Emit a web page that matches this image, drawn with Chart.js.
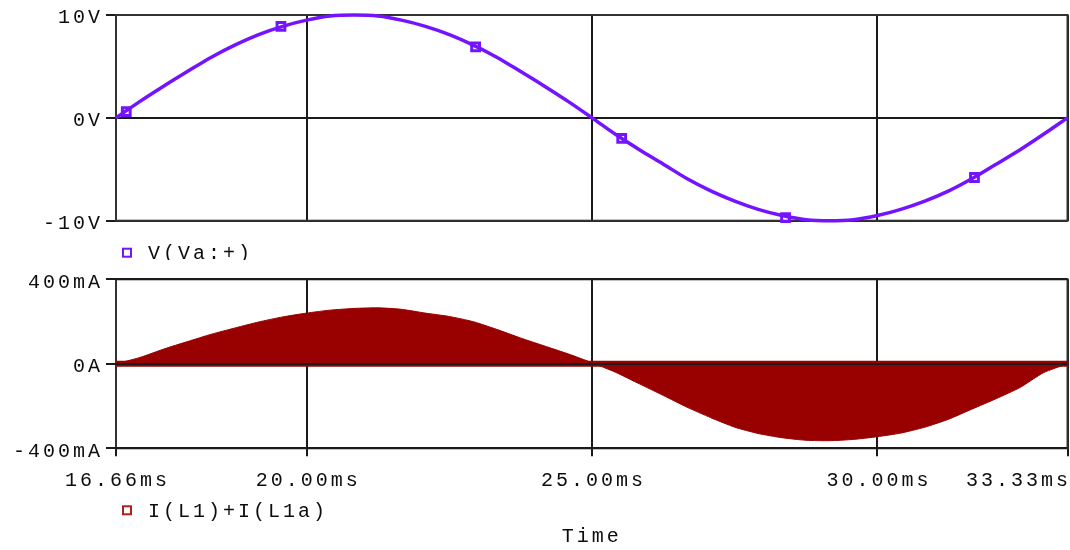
<!DOCTYPE html>
<html>
<head>
<meta charset="utf-8">
<script src="https://cdn.jsdelivr.net/npm/chart.js@4.4.1/dist/chart.umd.min.js"></script>
<style>
  html, body { margin: 0; padding: 0; background: #ffffff; width: 1070px; height: 550px; overflow: hidden; }
  canvas { position: absolute; left: 0; }
  #vplot { top: 0; }
  #iplot { top: 260px; }
</style>
</head>
<body>
<canvas id="vplot" width="1070" height="260"></canvas>
<canvas id="iplot" width="1070" height="290"></canvas>
<script>
// Sample times (ms) shared by both traces
const timeMs = [16.66, 17.08, 17.50, 17.91, 18.33, 18.75, 19.16, 19.58, 20.00, 20.41,
                20.83, 21.25, 21.66, 22.08, 22.50, 22.91, 23.33, 23.75, 24.16, 24.58,
                25.00, 25.41, 25.83, 26.25, 26.66, 27.08, 27.50, 27.91, 28.33, 28.75,
                29.16, 29.58, 30.00, 30.41, 30.83, 31.25, 31.66, 32.08, 32.50, 32.91, 33.33];

// V(Va:+) in volts
const voltage = [0.0, 1.6, 3.1, 4.5, 5.9, 7.1, 8.1, 8.9, 9.5, 9.9,
                 10.0, 9.9, 9.5, 8.9, 8.1, 7.1, 5.9, 4.5, 3.1, 1.6,
                 0.0, -1.6, -3.1, -4.5, -5.9, -7.1, -8.1, -8.9, -9.5, -9.9,
                 -10.0, -9.9, -9.5, -8.9, -8.1, -7.1, -5.9, -4.5, -3.1, -1.6, 0.0];

// Envelope of I(L1)+I(L1a) in mA
const current = [0, 30, 70, 105, 140, 170, 198, 222, 240, 254,
                 262, 265, 258, 240, 224, 200, 163, 122, 85, 47,
                 5, -40, -95, -150, -205, -255, -300, -330, -350, -362,
                 -364, -358, -345, -328, -300, -262, -214, -165, -112, -42, 0];

// Trace marker symbols on V(Va:+)
const markerTimes = [16.84, 19.55, 22.96, 25.52, 28.39, 31.70];
const markerVolts = [0.6, 8.9, 6.9, -2.0, -9.7, -5.8];

// Axis ticks and their labels
const timeTicks = [16.66, 20.00, 25.00, 30.00, 33.33];
const timeTickLabels = ['16.66ms', '20.00ms', '25.00ms', '30.00ms', '33.33ms'];
const voltTicks = [10, 0, -10];
const voltTickLabels = ['10V', '0V', '-10V'];
const currTicks = [400, 0, -400];
const currTickLabels = ['400mA', '0A', '-400mA'];
const traceNames = ['V(Va:+)', 'I(L1)+I(L1a)'];
const axisTitle = 'Time';

const FONT_FAMILY = "'Liberation Mono', 'DejaVu Sans Mono', monospace";
const FONT_SIZE = 20;
const FONT_WEIGHT = 'normal';
const LETTER_SPACING = '3px';
const TEXT_COLOR = '#0d0d0d';
const GRID_COLOR = '#1a1a1a';
const VOLT_COLOR = '#7414ff';
const CURR_COLOR = '#990000';

const axisFont = { family: FONT_FAMILY, size: FONT_SIZE, weight: FONT_WEIGHT };
const canvasFont = FONT_WEIGHT + ' ' + FONT_SIZE + 'px ' + FONT_FAMILY;

// Letter-spaced probe-style text on every canvas state reset
const spacedText = {
  id: 'spacedText',
  afterInit(chart) { chart.ctx.letterSpacing = LETTER_SPACING; },
  beforeUpdate(chart) { chart.ctx.letterSpacing = LETTER_SPACING; },
  beforeDraw(chart) { chart.ctx.letterSpacing = LETTER_SPACING; }
};

// Rectangular frame around each plot
const plotFrame = {
  id: 'plotFrame',
  beforeDatasetsDraw(chart) {
    const { ctx, chartArea: a } = chart;
    ctx.save();
    ctx.strokeStyle = '#333333';
    ctx.lineWidth = 2;
    ctx.strokeRect(a.left, a.top, a.right - a.left, a.bottom - a.top);
    ctx.restore();
  }
};

// Trace legend: hollow square + trace name under the plot
const traceLegend = {
  id: 'traceLegend',
  afterDraw(chart, args, opts) {
    const { ctx, chartArea: a } = chart;
    const y = a.bottom + opts.offsetY;
    ctx.save();
    ctx.letterSpacing = LETTER_SPACING;
    ctx.strokeStyle = opts.color;
    ctx.lineWidth = 2;
    ctx.strokeRect(opts.boxX, y - 4, 8, 8);
    ctx.font = canvasFont;
    ctx.fillStyle = TEXT_COLOR;
    ctx.textAlign = 'left';
    ctx.textBaseline = 'middle';
    ctx.fillText(opts.text, opts.textX, y + 1);
    ctx.restore();
  }
};

// Time tick labels, kept inside the canvas at the right edge
const timeLabels = {
  id: 'timeLabels',
  afterDraw(chart, args, opts) {
    if (!opts.show) return;
    const { ctx } = chart;
    const xs = chart.scales.x;
    ctx.save();
    ctx.letterSpacing = LETTER_SPACING;
    ctx.font = canvasFont;
    ctx.fillStyle = TEXT_COLOR;
    ctx.textAlign = 'center';
    ctx.textBaseline = 'alphabetic';
    const sp = parseFloat(LETTER_SPACING);
    timeTicks.forEach((v, i) => {
      const label = timeTickLabels[i];
      const w = ctx.measureText(label).width;
      let px = xs.getPixelForValue(v) + sp / 2;
      px = Math.min(px, chart.width - 2 - w / 2 + sp);
      px = Math.max(px, w / 2 + 2);
      ctx.fillText(label, px, xs.top + opts.baseline);
    });
    ctx.restore();
  }
};

// Red trace edge under the zero line of the current plot
const zeroTrace = {
  id: 'zeroTrace',
  afterDatasetsDraw(chart, args, opts) {
    if (!opts.show) return;
    const { ctx, chartArea: a } = chart;
    const y0 = chart.scales.y.getPixelForValue(0);
    ctx.save();
    ctx.strokeStyle = CURR_COLOR;
    ctx.lineWidth = 6;
    ctx.beginPath();
    ctx.moveTo(a.left, y0);
    ctx.lineTo(a.right, y0);
    ctx.stroke();
    ctx.restore();
  }
};

function timeAxis(withLabels) {
  return {
    type: 'linear',
    min: timeTicks[0],
    max: timeTicks[timeTicks.length - 1],
    afterBuildTicks: (s) => { s.ticks = timeTicks.map(v => ({ value: v })); },
    afterFit: (s) => { s.height = withLabels ? 101.7 : 0; },
    grid: {
      color: GRID_COLOR,
      lineWidth: 2,
      drawTicks: withLabels,
      tickLength: 8,
      tickColor: GRID_COLOR
    },
    border: { display: false },
    ticks: { display: false },
    title: withLabels ? {
      display: true,
      text: axisTitle,
      color: TEXT_COLOR,
      font: axisFont,
      padding: { top: 0, bottom: 1 }
    } : { display: false }
  };
}

function valueAxis(ticks, labels, gridZ) {
  return {
    type: 'linear',
    min: ticks[ticks.length - 1],
    max: ticks[0],
    afterBuildTicks: (s) => { s.ticks = ticks.map(v => ({ value: v })); },
    afterFit: (s) => { s.width = 116; },
    grid: {
      color: GRID_COLOR,
      lineWidth: 2,
      drawTicks: true,
      tickLength: 10,
      tickColor: GRID_COLOR,
      z: gridZ
    },
    border: { display: false },
    ticks: {
      color: TEXT_COLOR,
      font: axisFont,
      padding: 3,
      labelOffset: 3,
      callback: (v) => labels[ticks.indexOf(v)]
    }
  };
}

Chart.register(spacedText, plotFrame, traceLegend, timeLabels, zeroTrace);

new Chart(document.getElementById('vplot'), {
  type: 'line',
  data: {
    datasets: [
      {
        label: traceNames[0],
        data: timeMs.map((t, i) => ({ x: t, y: voltage[i] })),
        borderColor: VOLT_COLOR,
        borderWidth: 3.5,
        pointRadius: 0,
        tension: 0.3,
        clip: 4
      },
      {
        label: traceNames[0] + ' markers',
        data: markerTimes.map((t, i) => ({ x: t, y: markerVolts[i] })),
        showLine: false,
        pointStyle: 'rect',
        pointRadius: 5.5,
        pointBorderWidth: 3,
        pointBorderColor: VOLT_COLOR,
        pointBackgroundColor: 'rgba(255,255,255,0)',
        clip: 6
      }
    ]
  },
  options: {
    responsive: false,
    animation: false,
    layout: { autoPadding: false, padding: { top: 15, right: 2.5, bottom: 39.3, left: 0 } },
    scales: {
      x: timeAxis(false),
      y: valueAxis(voltTicks, voltTickLabels, 0)
    },
    plugins: {
      legend: { display: false },
      tooltip: { enabled: false },
      traceLegend: { text: traceNames[0], color: VOLT_COLOR, boxX: 123, textX: 148, offsetY: 32 },
      timeLabels: { show: false },
      zeroTrace: { show: false }
    }
  }
});

new Chart(document.getElementById('iplot'), {
  type: 'line',
  data: {
    datasets: [
      {
        label: traceNames[1],
        data: timeMs.map((t, i) => ({ x: t, y: current[i] })),
        borderColor: CURR_COLOR,
        backgroundColor: CURR_COLOR,
        borderWidth: 1,
        pointRadius: 0,
        tension: 0.2,
        fill: 'origin'
      }
    ]
  },
  options: {
    responsive: false,
    animation: false,
    layout: { autoPadding: false, padding: { top: 19.3, right: 2.5, bottom: 0, left: 0 } },
    scales: {
      x: timeAxis(true),
      y: valueAxis(currTicks, currTickLabels, 1)
    },
    plugins: {
      legend: { display: false },
      tooltip: { enabled: false },
      traceLegend: { text: traceNames[1], color: '#b02020', boxX: 123, textX: 148, offsetY: 62 },
      timeLabels: { show: true, baseline: 37.5 },
      zeroTrace: { show: true }
    }
  }
});
</script>
</body>
</html>
